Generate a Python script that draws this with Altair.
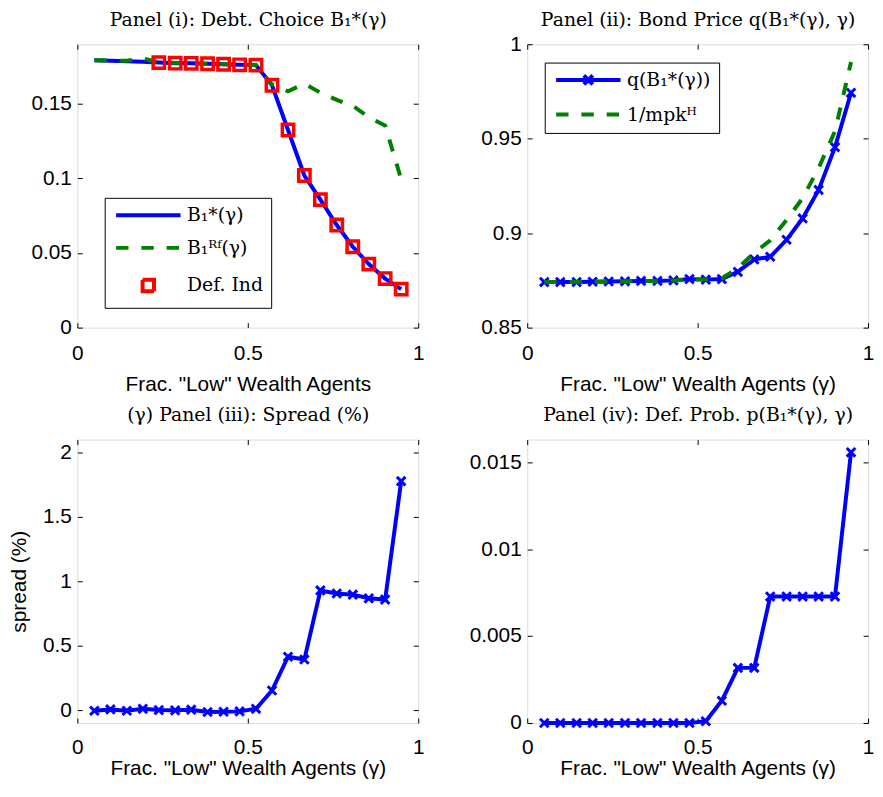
import altair as alt
import pandas as pd

# ---------------- data ----------------
GAMMA = [0.05, 0.097, 0.145, 0.192, 0.239, 0.287, 0.334, 0.382, 0.429, 0.476,
         0.524, 0.571, 0.618, 0.666, 0.713, 0.761, 0.808, 0.855, 0.903, 0.95]

B_STAR = [0.1792, 0.1790, 0.1786, 0.1782, 0.1777, 0.1773, 0.1772, 0.1769, 0.1766, 0.1762,
          0.1760, 0.1625, 0.1325, 0.1020, 0.0858, 0.0688, 0.0542, 0.0426, 0.0329, 0.0258]
B_RF = [0.1792, 0.1790, 0.1790, 0.1804, 0.1780, 0.1775, 0.1772, 0.1769, 0.1766, 0.1762,
        0.1760, 0.1630, 0.1585, 0.1635, 0.1575, 0.1527, 0.1487, 0.1411, 0.1355, 0.0995]
DEF_GAMMA = GAMMA[4:]
DEF_B = B_STAR[4:]

Q_PRICE = [0.8741, 0.8741, 0.8741, 0.8743, 0.8744, 0.8745, 0.8747, 0.8747, 0.8750, 0.8757,
           0.8754, 0.8757, 0.8795, 0.8861, 0.8875, 0.8965, 0.9078, 0.9229, 0.9455, 0.9743]
INV_MPK = [0.8741, 0.8741, 0.8741, 0.8743, 0.8744, 0.8745, 0.8747, 0.8747, 0.8750, 0.8754,
           0.8756, 0.8760, 0.8815, 0.8896, 0.8962, 0.9070, 0.9185, 0.9345, 0.9540, 0.9906]

SPREAD = [-0.005, 0.005, -0.005, 0.010, 0.000, -0.002, 0.003, -0.015, -0.013, -0.010,
          0.010, 0.152, 0.414, 0.393, 0.929, 0.905, 0.896, 0.868, 0.858, 1.777]

DEF_PROB = [0, 0, 0, 0, 0, 0, 0, 0, 0, 0,
            0.0001, 0.00128, 0.00317, 0.00317, 0.00727, 0.00727, 0.00727, 0.00727, 0.00727, 0.01557]

X_TICKS = [0, 0.5, 1]
Y1_TICKS = [0, 0.05, 0.1, 0.15]
Y2_TICKS = [0.85, 0.9, 0.95, 1]
Y3_TICKS = [0, 0.5, 1, 1.5, 2]
Y4_TICKS = [0, 0.005, 0.01, 0.015]

SERIES1 = ["B", "RF", "Def"]
SERIES2 = ["q", "mpk"]

TITLES = ["Panel (i): Debt. Choice B₁*(γ)",
          "Panel (ii): Bond Price q(B₁*(γ), γ)",
          "(γ) Panel (iii): Spread (%)",
          "Panel (iv): Def. Prob. p(B₁*(γ), γ)"]
XTITLE_A = 'Frac. "Low" Wealth Agents'
XTITLE_B = 'Frac. "Low" Wealth Agents (γ)'

# ---------------- styles ----------------
SANS = "Liberation Sans"
SERIF = "DejaVu Serif"
BLUE, GREEN, RED = "#0000ff", "#008000", "#ff0000"
W, H = 344, 286
DASH = [12.5, 13]
SOLID = [1, 0]
LINE_PATH = "M-6.5,0H6.5"
LINEX_PATH = "M-6.5,0H6.5M-0.9,-0.9L0.9,0.9M-0.9,0.9L0.9,-0.9"
SQUARE_PATH = "M-1.15,-1.15H1.15V1.15H-1.15Z"
X_MARK = "M-1,-1L1,1M-1,1L1,-1"


def axis_common(**kw):
    base = dict(offset=-5, tickSize=5, tickColor="black", tickWidth=1, domain=False,
                grid=False, labelFont=SANS, labelFontSize=21, labelColor="black",
                labelOverlap=False, format="~g")
    base.update(kw)
    return alt.Axis(**base)


def bottom_axis(label_pad, title, title_y):
    return axis_common(orient="bottom", values=X_TICKS, labelFlush=False,
                       labelPadding=label_pad, title=title, titleFont=SANS,
                       titleFontSize=21, titleFontWeight="normal", titleColor="black",
                       titleBaseline="alphabetic", titleY=title_y)


def left_axis(values, title=None):
    if title:
        return axis_common(orient="left", values=values, labelPadding=6, title=title,
                           titleFont=SANS, titleFontSize=21, titleFontWeight="normal",
                           titleColor="black", titlePadding=13)
    return axis_common(orient="left", values=values, labelPadding=6, title=None)


def top_axis(title, pad):
    return axis_common(orient="top", values=X_TICKS, labels=False, title=title,
                       titleFont=SERIF, titleFontSize=19, titleFontWeight="normal",
                       titleColor="black", titleBaseline="alphabetic", titlePadding=pad)


def right_axis(values):
    return axis_common(orient="right", values=values, labels=False, title=None)


def xenc(axis):
    return alt.X("x:Q", scale=alt.Scale(domain=[0, 1], nice=False, zero=False), axis=axis)


def yenc(dom, axis):
    return alt.Y("y:Q", scale=alt.Scale(domain=dom, nice=False, zero=False), axis=axis)


def legend(x, y, label_expr):
    return alt.Legend(title=None, orient="none", legendX=x, legendY=y, direction="vertical",
                      fillColor="white", strokeColor="black", padding=8, cornerRadius=0,
                      symbolSize=100, symbolOffset=26.5, labelOffset=29.5, rowPadding=13,
                      symbolStrokeWidth=4, symbolFillColor="transparent", symbolOpacity=1,
                      labelFont=SERIF, labelFontSize=19, labelColor="black",
                      labelLimit=400, labelExpr=label_expr)


def legend_layer(df, domain, colors, shapes, dashes, leg, y_dom):
    return alt.Chart(df).transform_filter("false").mark_point(
        size=100, filled=False, strokeWidth=4, opacity=1).encode(
        x=xenc(None), y=yenc(y_dom, None),
        color=alt.Color("s:N", scale=alt.Scale(domain=domain, range=colors), legend=leg),
        shape=alt.Shape("s:N", scale=alt.Scale(domain=domain, range=shapes), legend=leg),
        strokeDash=alt.StrokeDash("s:N", scale=alt.Scale(domain=domain, range=dashes),
                                  legend=leg),
    )


TOP_PAD = 18       # panel-title baseline above the frame (top row)
BOT_PAD = 19       # panel-title baseline above the frame (bottom row)

# ---------------- panel (i) ----------------
Y1 = [0, 0.19]
d_b = pd.DataFrame({"x": GAMMA, "y": B_STAR, "s": "B"})
d_rf = pd.DataFrame({"x": GAMMA, "y": B_RF, "s": "RF"})
d_def = pd.DataFrame({"x": DEF_GAMMA, "y": DEF_B, "s": "Def"})
leg1 = legend(27.6, 155,
              "datum.value === 'B' ? 'B₁*(γ)' : datum.value === 'RF' ? 'B₁ᴿᶠ(γ)' : 'Def. Ind'")

p1 = alt.layer(
    alt.Chart(d_b).mark_line(strokeWidth=4, color=BLUE).encode(
        x=xenc(bottom_axis(15, XTITLE_A, 68.3)),
        y=yenc(Y1, left_axis(Y1_TICKS))),
    alt.Chart(d_rf).mark_line(strokeWidth=4, strokeDash=DASH, color=GREEN).encode(
        x=xenc(top_axis(TITLES[0], TOP_PAD)), y=yenc(Y1, right_axis(Y1_TICKS))),
    alt.Chart(d_def).mark_point(shape="square", size=132, filled=False, strokeWidth=3.5,
                                color=RED, opacity=1).encode(
        x=xenc(None), y=yenc(Y1, None)),
    legend_layer(d_def, SERIES1, [BLUE, GREEN, RED], [LINE_PATH, LINE_PATH, SQUARE_PATH],
                 [SOLID, DASH, SOLID], leg1, Y1),
).resolve_axis(x="independent", y="independent").properties(width=W, height=H)

# ---------------- panel (ii) ----------------
Y2 = [0.85, 1.0]
d_q = pd.DataFrame({"x": GAMMA, "y": Q_PRICE, "s": "q"})
d_m = pd.DataFrame({"x": GAMMA, "y": INV_MPK, "s": "mpk"})
leg2 = legend(17.7, 18.5, "datum.value === 'q' ? 'q(B₁*(γ))' : '1/mpkᴴ'")

p2 = alt.layer(
    alt.Chart(d_q).mark_line(strokeWidth=4, color=BLUE).encode(
        x=xenc(bottom_axis(15, XTITLE_B, 68.3)),
        y=yenc(Y2, left_axis(Y2_TICKS))),
    alt.Chart(d_q).mark_point(shape=X_MARK, size=75, filled=False, strokeWidth=3,
                              color=BLUE, opacity=1).encode(
        x=xenc(top_axis(TITLES[1], TOP_PAD)), y=yenc(Y2, right_axis(Y2_TICKS))),
    alt.Chart(d_m).mark_line(strokeWidth=4, strokeDash=DASH, color=GREEN).encode(
        x=xenc(None), y=yenc(Y2, None)),
    legend_layer(d_q, SERIES2, [BLUE, GREEN], [LINEX_PATH, LINE_PATH], [SOLID, DASH],
                 leg2, Y2),
).resolve_axis(x="independent", y="independent").properties(width=W, height=H)

# ---------------- panel (iii) ----------------
Y3 = [-0.1, 2.1]
d_s = pd.DataFrame({"x": GAMMA, "y": SPREAD})
p3 = alt.layer(
    alt.Chart(d_s).mark_line(strokeWidth=4, color=BLUE).encode(
        x=xenc(bottom_axis(13.5, XTITLE_B, 57)),
        y=yenc(Y3, left_axis(Y3_TICKS, "spread (%)"))),
    alt.Chart(d_s).mark_point(shape=X_MARK, size=75, filled=False, strokeWidth=3,
                              color=BLUE, opacity=1).encode(
        x=xenc(top_axis(TITLES[2], BOT_PAD)), y=yenc(Y3, right_axis(Y3_TICKS))),
).resolve_axis(x="independent", y="independent").properties(width=W, height=H)

# ---------------- panel (iv) ----------------
Y4 = [0, 0.0163]
d_p = pd.DataFrame({"x": GAMMA, "y": DEF_PROB})
p4 = alt.layer(
    alt.Chart(d_p).mark_line(strokeWidth=4, color=BLUE).encode(
        x=xenc(bottom_axis(13.5, XTITLE_B, 57)),
        y=yenc(Y4, left_axis(Y4_TICKS))),
    alt.Chart(d_p).mark_point(shape=X_MARK, size=75, filled=False, strokeWidth=3,
                              color=BLUE, opacity=1).encode(
        x=xenc(top_axis(TITLES[3], BOT_PAD)), y=yenc(Y4, right_axis(Y4_TICKS))),
).resolve_axis(x="independent", y="independent").properties(width=W, height=H)

chart = alt.concat(
    p1, p2, p3, p4, columns=2, spacing={"row": 113, "column": 110}, bounds="flush",
    padding={"left": 0, "top": -1, "right": 0, "bottom": 0},
).resolve_scale(color="independent", shape="independent",
                strokeDash="independent").configure_view(
    stroke="black", strokeWidth=1
).configure(background="white")

chart.save("out.html", embed_options={"renderer": "svg", "actions": False})
